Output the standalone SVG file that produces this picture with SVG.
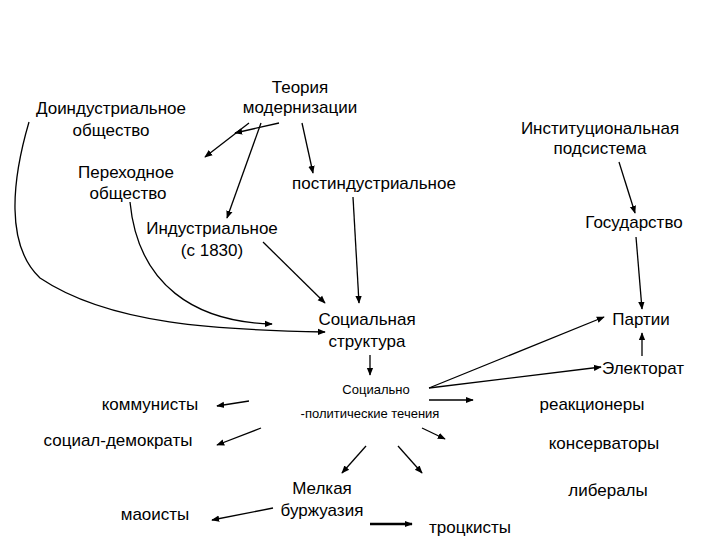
<svg xmlns="http://www.w3.org/2000/svg" width="720" height="540" viewBox="0 0 720 540">
<style>
text{font-family:"Liberation Sans",Arial,sans-serif;font-size:17px;fill:#000;text-anchor:middle}
.s{font-size:13px}
.c path,.c line{stroke:#000;stroke-width:1.3;fill:none;marker-end:url(#a)}
.t{stroke-width:2.4 !important}
</style>
<defs><marker id="a" viewBox="0 0 10 10" refX="9" refY="5" markerWidth="8" markerHeight="8" markerUnits="userSpaceOnUse" orient="auto"><path d="M0,1L10,5L0,9z" fill="#000"/></marker></defs>
<rect width="720" height="540" fill="#fff"/>
<g id="teoria"><text x="300" y="93">Теория</text><text x="300" y="113">модернизации</text></g>
<g id="doind"><text x="111" y="114">Доиндустриальное</text><text x="111" y="136">общество</text></g>
<g id="perehod"><text x="126" y="178">Переходное</text><text x="128" y="199">общество</text></g>
<g id="postind"><text x="374" y="189">постиндустриальное</text></g>
<g id="inst"><text x="600" y="134">Институциональная</text><text x="600" y="154">подсистема</text></g>
<g id="gos"><text x="634" y="228">Государство</text></g>
<g id="ind"><text x="212" y="234">Индустриальное</text><text x="212" y="256">(с 1830)</text></g>
<g id="soc"><text x="367" y="325">Социальная</text><text x="367" y="347">структура</text></g>
<g id="partii"><text x="641" y="325">Партии</text></g>
<g id="elect"><text x="643" y="374">Электорат</text></g>
<g id="spt"><text class="s" x="376" y="394">Социально</text><text class="s" x="370" y="418">-политические течения</text></g>
<g id="komm"><text x="150" y="410">коммунисты</text></g>
<g id="sd"><text x="118" y="446">социал-демократы</text></g>
<g id="reak"><text x="592" y="410">реакционеры</text></g>
<g id="kons"><text x="604" y="449">консерваторы</text></g>
<g id="lib"><text x="608" y="496">либералы</text></g>
<g id="melk"><text x="322" y="494">Мелкая</text><text x="322" y="516">буржуазия</text></g>
<g id="mao"><text x="155" y="520">маоисты</text></g>
<g id="trock"><text x="470" y="533">троцкисты</text></g>
<g class="c" id="connectors">
<line x1="279" y1="123" x2="235" y2="133"/>
<line x1="249" y1="123" x2="205" y2="157"/>
<line x1="261" y1="123" x2="227" y2="218"/>
<line x1="302" y1="123" x2="313" y2="173"/>
<line x1="619" y1="162" x2="635" y2="213"/>
<line x1="636" y1="237" x2="642" y2="309"/>
<line x1="353" y1="197" x2="359" y2="303"/>
<line x1="263" y1="242" x2="325" y2="303"/>
<path d="M130,202 C138,285 195,322 272,324"/>
<path d="M29,122 C12,180 5,245 40,278 C110,325 220,330 325,332"/>
<line x1="642" y1="356" x2="642" y2="333"/>
<line x1="370" y1="355" x2="370" y2="375"/>
<line x1="429" y1="388" x2="604" y2="317"/>
<line x1="429" y1="388" x2="601" y2="367"/>
<line x1="429" y1="400" x2="473" y2="400"/>
<line x1="249" y1="401" x2="217" y2="406"/>
<line x1="261" y1="428" x2="217" y2="445"/>
<line x1="422" y1="428" x2="445" y2="439"/>
<line x1="366" y1="446" x2="342" y2="473"/>
<line x1="398" y1="446" x2="422" y2="473"/>
<line x1="273" y1="508" x2="212" y2="520"/>
<line class="t" x1="370" y1="524" x2="412" y2="524"/>
</g>
</svg>
